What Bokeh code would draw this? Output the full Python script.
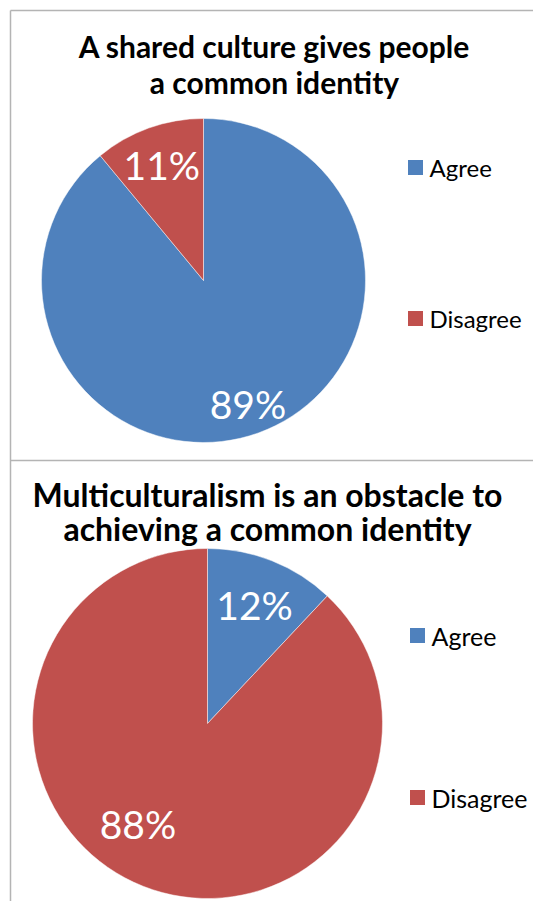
import math
from bokeh.plotting import figure
from bokeh.models import Range1d, ColumnDataSource
from bokeh.core.properties import value
from bokeh.embed import file_html
from bokeh.resources import INLINE

# ---- data ----
categories = ["Agree", "Disagree"]
colors = ["#4F81BD", "#C0504D"]
chart1_title = ["A shared culture gives people", "a common identity"]
chart1_values = [89, 11]
chart2_title = ["Multiculturalism is an obstacle to", "achieving a common identity"]
chart2_values = [12, 88]

# ---- layout (screen pixels, y measured from top) ----
W, H = 533, 901
FONT = "Lato"


def sy(y):
    return H - y


p = figure(width=W, height=H, x_range=Range1d(0, W), y_range=Range1d(0, H),
           output_backend="svg", toolbar_location=None, min_border=0)
p.axis.visible = False
p.grid.visible = False
p.outline_line_color = None
p.background_fill_color = "white"
p.border_fill_color = "white"

# chart frames
p.segment(x0=[10, 10, 10], y0=[sy(10), sy(10), sy(460)],
          x1=[10, W, W], y1=[sy(H), sy(10), sy(460)],
          line_color="#B4B4B4", line_width=1.5)


def draw_chart(values, title_lines, cx, cy, r, title_cx, title_ys, title_size,
               label_frac, label_turn, leg_x, leg_ys, leg_size):
    total = float(sum(values))
    starts, ends = [], []
    a = math.pi / 2
    for v in values:
        starts.append(a)
        a -= v / total * 2 * math.pi
        ends.append(a)
    src = ColumnDataSource(dict(cat=categories, val=values, s=starts, e=ends,
                                color=colors, x=[cx] * len(values),
                                y=[sy(cy)] * len(values)))
    p.wedge(x="x", y="y", radius=r, start_angle="e", end_angle="s",
            direction="anticlock", fill_color="color", line_color="white",
            line_alpha=0.6, line_width=0.8, source=src)

    # data labels
    lx, ly, lt = [], [], []
    for v, s, e, f, t in zip(values, starts, ends, label_frac, label_turn):
        mid = (s + e) / 2 + math.radians(t)
        lx.append(cx + f * r * math.cos(mid))
        ly.append(sy(cy) + f * r * math.sin(mid))
        lt.append(f"{v}%")
    p.text(x=lx, y=ly, text=lt, text_color="white", text_font=value(FONT),
           text_font_size="39px", text_align="center", text_baseline="middle")

    # title
    p.text(x=[title_cx] * len(title_lines), y=[sy(t) for t in title_ys],
           text=title_lines, text_color="black", text_font=value(FONT),
           text_font_style="bold", text_font_size=title_size,
           text_align="center", text_baseline="middle")

    # legend
    p.scatter(x=[leg_x + 8] * len(categories), y=[sy(t) for t in leg_ys],
              marker="square", size=15, fill_color=colors, line_color=None)
    p.text(x=[leg_x + 22] * len(categories), y=[sy(t) for t in leg_ys],
           text=categories, text_color="black", text_font=value(FONT),
           text_font_size=leg_size, text_align="left", text_baseline="middle")


draw_chart(chart1_values, chart1_title, cx=203, cy=280, r=162,
           title_cx=274, title_ys=[45, 81], title_size="30px",
           label_frac=[0.81, 0.76], label_turn=[0, 0],
           leg_x=407, leg_ys=[167, 318], leg_size="24px")

draw_chart(chart2_values, chart2_title, cx=207, cy=723, r=175,
           title_cx=267, title_ys=[494, 528], title_size="32px",
           label_frac=[0.73, 0.70], label_turn=[0, -13],
           leg_x=409, leg_ys=[635, 797], leg_size="25px")

open("out.html", "w").write(file_html(p, INLINE))
